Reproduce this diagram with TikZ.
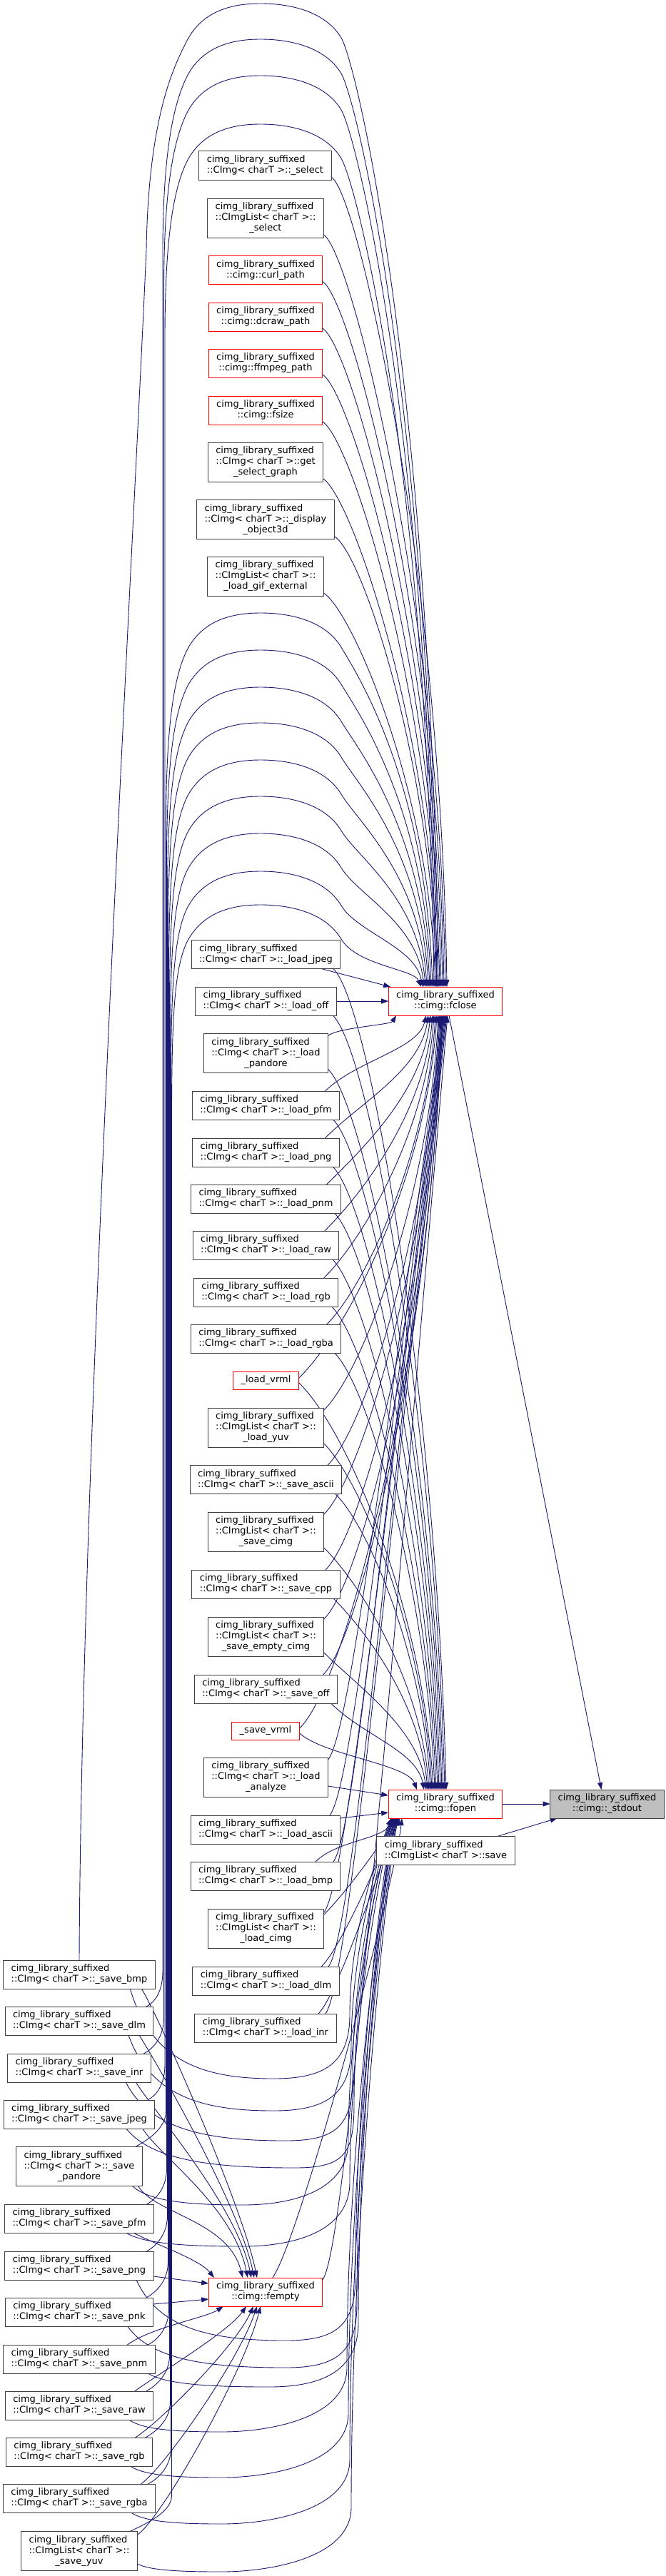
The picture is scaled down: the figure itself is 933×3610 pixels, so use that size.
\documentclass[tikz,border=0pt]{standalone}
\usepackage{fontspec}
\setmainfont{DejaVu Sans}
\usetikzlibrary{arrows.meta,backgrounds,calc}
\definecolor{edgeblue}{HTML}{191970}
\definecolor{nodeborder}{HTML}{404040}
\definecolor{nodered}{HTML}{FF0000}
\definecolor{nodegray}{HTML}{BFBFBF}
\newcommand{\Lone}[1]{\begin{tabular}{@{}c@{}}#1\end{tabular}}
\newcommand{\Ltwo}[2]{\begin{tabular}{@{}l@{}}#1\\\multicolumn{1}{@{}c@{}}{#2}\end{tabular}}
\newcommand{\Lthree}[3]{\begin{tabular}{@{}l@{}}#1\\#2\\\multicolumn{1}{@{}c@{}}{#3}\end{tabular}}
\newcommand{\cls}{cimg\_library\_suffixed}
\newcommand{\CI}{::CImg< charT >::}
\newcommand{\CL}{::CImgList< charT >::}
\tikzset{
  nbox/.style={draw=nodeborder, line width=1pt, fill=white, inner xsep=11pt, inner ysep=5pt, outer sep=0pt, font=\fontsize{13}{15}\selectfont, text=black, anchor=center},
  rbox/.style={nbox, draw=nodered},
  gbox/.style={nbox, fill=nodegray},
  edg/.style={draw=edgeblue, line width=0.9pt, -{Triangle[length=10pt,width=7pt]}}
}
\begin{document}
\begin{tikzpicture}[x=1pt,y=-1pt]
\useasboundingbox (0,0) rectangle (933,3610);
% middle column, upper
\node[nbox] (n1) at (371.5,232) {\Ltwo{\cls}{\CI\_select}};
\node[nbox] (n2) at (372,305.5) {\Lthree{\cls}{\CL}{\_select}};
\node[rbox] (n3) at (372,378.5) {\Ltwo{\cls}{::cimg::curl\_path}};
\node[rbox] (n4) at (372,444) {\Ltwo{\cls}{::cimg::dcraw\_path}};
\node[rbox] (n5) at (372,509) {\Ltwo{\cls}{::cimg::ffmpeg\_path}};
\node[rbox] (n6) at (372,575) {\Ltwo{\cls}{::cimg::fsize}};
\node[nbox] (n7) at (372,647.5) {\Lthree{\cls}{\CI get}{\_select\_graph}};
\node[nbox] (n8) at (372,728) {\Lthree{\cls}{\CI\_display}{\_object3d}};
\node[nbox] (n9) at (372,807.5) {\Lthree{\cls}{\CL}{\_load\_gif\_external}};
% middle column, lower
\node[nbox] (n10) at (372.5,1337.5) {\Ltwo{\cls}{\CI\_load\_jpeg}};
\node[nbox] (n11) at (372.5,1403) {\Ltwo{\cls}{\CI\_load\_off}};
\node[nbox] (n12) at (372.5,1476) {\Lthree{\cls}{\CI\_load}{\_pandore}};
\node[nbox] (n13) at (372.5,1549) {\Ltwo{\cls}{\CI\_load\_pfm}};
\node[nbox] (n14) at (372.5,1615) {\Ltwo{\cls}{\CI\_load\_png}};
\node[nbox] (n15) at (372.5,1680) {\Ltwo{\cls}{\CI\_load\_pnm}};
\node[nbox] (n16) at (372.5,1745) {\Ltwo{\cls}{\CI\_load\_raw}};
\node[nbox] (n17) at (372.5,1811) {\Ltwo{\cls}{\CI\_load\_rgb}};
\node[nbox] (n18) at (372.5,1876) {\Ltwo{\cls}{\CI\_load\_rgba}};
\node[rbox] (n19) at (372.5,1934.5) {\Lone{\_load\_vrml}};
\node[nbox] (n20) at (372.5,2000.5) {\Lthree{\cls}{\CL}{\_load\_yuv}};
\node[nbox] (n21) at (372.5,2073.5) {\Ltwo{\cls}{\CI\_save\_ascii}};
\node[nbox] (n22) at (372.5,2146.5) {\Lthree{\cls}{\CL}{\_save\_cimg}};
\node[nbox] (n23) at (372.5,2220) {\Ltwo{\cls}{\CI\_save\_cpp}};
\node[nbox] (n24) at (372.5,2293.5) {\Lthree{\cls}{\CL}{\_save\_empty\_cimg}};
\node[nbox] (n25) at (372.5,2367) {\Ltwo{\cls}{\CI\_save\_off}};
\node[rbox] (n26) at (372,2425.5) {\Lone{\_save\_vrml}};
\node[nbox] (n27) at (372.5,2490.5) {\Lthree{\cls}{\CI\_load}{\_analyze}};
\node[nbox] (n28) at (372,2564) {\Ltwo{\cls}{\CI\_load\_ascii}};
\node[nbox] (n29) at (372,2629) {\Ltwo{\cls}{\CI\_load\_bmp}};
\node[nbox] (n30) at (372.5,2702.5) {\Lthree{\cls}{\CL}{\_load\_cimg}};
\node[nbox] (n31) at (372.5,2776) {\Ltwo{\cls}{\CI\_load\_dlm}};
\node[nbox] (n32) at (372,2842) {\Ltwo{\cls}{\CI\_load\_inr}};
\node[rbox] (fempty) at (372,3212) {\Ltwo{\cls}{::cimg::fempty}};
% left column
\node[nbox] (L1) at (111,2767) {\Ltwo{\cls}{\CI\_save\_bmp}};
\node[nbox] (L2) at (111,2832) {\Ltwo{\cls}{\CI\_save\_dlm}};
\node[nbox] (L3) at (111,2898) {\Ltwo{\cls}{\CI\_save\_inr}};
\node[nbox] (L4) at (111,2963) {\Ltwo{\cls}{\CI\_save\_jpeg}};
\node[nbox] (L5) at (111,3036) {\Lthree{\cls}{\CI\_save}{\_pandore}};
\node[nbox] (L6) at (111,3109) {\Ltwo{\cls}{\CI\_save\_pfm}};
\node[nbox] (L7) at (111,3175) {\Ltwo{\cls}{\CI\_save\_png}};
\node[nbox] (L8) at (111,3240) {\Ltwo{\cls}{\CI\_save\_pnk}};
\node[nbox] (L9) at (111,3306) {\Ltwo{\cls}{\CI\_save\_pnm}};
\node[nbox] (L10) at (111,3371) {\Ltwo{\cls}{\CI\_save\_raw}};
\node[nbox] (L11) at (111,3436) {\Ltwo{\cls}{\CI\_save\_rgb}};
\node[nbox] (L12) at (111,3501) {\Ltwo{\cls}{\CI\_save\_rgba}};
\node[nbox] (L13) at (111,3575) {\Lthree{\cls}{\CL}{\_save\_yuv}};
% right
\node[rbox] (fclose) at (624,1403) {\Ltwo{\cls}{::cimg::fclose}};
\node[rbox] (fopen) at (624,2528) {\Ltwo{\cls}{::cimg::fopen}};
\node[nbox] (lsave) at (624.5,2593.5) {\Ltwo{\cls}{\CL save}};
\node[gbox] (stdout) at (850.5,2528) {\Ltwo{\cls}{::cimg::\_stdout}};

\begin{pgfonlayer}{background}
\fill[white] (0,0) rectangle (933,3610);
% to stdout
\draw[edg] ([xshift=5pt]fclose.south) -- ([xshift=-8pt]stdout.north);
\draw[edg] (fopen.east) -- (stdout.west);
\draw[edg] ([xshift=72pt]lsave.north) -- ([xshift=10pt]stdout.south west);
% A: top nodes -> fclose top
\foreach \qn/\qsx/\qsy/\qex in {n1/464/248/626,n2/453/329/624,n3/453/395/622,n4/453/460/620,n5/453/525/618,n6/453/591/616,n7/453/671/614,n8/468/751/612,n9/453/831/610}{
  \pgfmathsetmacro\qa{\qsx+40}
  \pgfmathsetmacro\qb{\qsy+25}
  \pgfmathsetmacro\qc{\qex-8}
  \pgfmathsetmacro\qd{\qsy+0.5*(1383-\qsy)}
  \pgfmathsetmacro\qo{\qex-624}
  \draw[edg] ([yshift=4pt]\qn.south east) .. controls (\qa,\qb) and (\qc,\qd) .. ([xshift=\qo pt]fclose.north);
}
% B: arches from left column to fclose
\draw[edg] (L1.north) .. controls +(3,-700) and (185,800) .. (205,350) .. controls (208,160) and (245,90) .. (263,55) .. controls (285,15) and (325,5) .. (365,5) .. controls (405,5) and (455,15) .. (478,53) .. controls (500,90) and (604,537) .. ([xshift=-10pt]fclose.north);
\foreach \qn/\qbx/\qyp/\qex in {L2/228/55/612,L3/229.5/106/610,L4/231/174/608,L5/232.5/859/606,L6/233.5/911/604,L7/234.5/963/602,L8/235.5/1013/600,L9/236.5/1065/598,L10/237.5/1116/596,L11/238.5/1168/594,L12/239.5/1221/592,L13/240.5/1268/590}{
  \pgfmathsetmacro\qyb{\qyp+300}
  \pgfmathsetmacro\qyc{\qyp+150}
  \pgfmathsetmacro\qyd{\qyp+85}
  \pgfmathsetmacro\qye{\qyp+50}
  \pgfmathsetmacro\qyf{\qyp+10}
  \pgfmathsetmacro\qyh{\qyp+48}
  \pgfmathsetmacro\qyj{\qyp+0.35*(1383-\qyp)+50}
  \pgfmathsetmacro\qxm{\qex-10}
  \pgfmathsetmacro\qo{\qex-624}
  \draw[edg] let \p1=([xshift=-10pt]\qn.north east) in (\p1) .. controls +(15,-8) and (\qbx pt,\y1+25pt) .. (\qbx pt,\y1+50pt) -- (\qbx,\qyb) .. controls (\qbx,\qyc) and (245,\qyd) .. (263,\qye) .. controls (285,\qyf) and (325,\qyp) .. (365,\qyp) .. controls (405,\qyp) and (455,\qyf) .. (478,\qyh) .. controls (500,\qyd) and (\qxm,\qyj) .. ([xshift=\qo pt]fclose.north);
}
% special short edges
\draw[edg] ([xshift=-27pt]n10.south east) -- ([xshift=3pt]fclose.north west);
\draw[edg] (n11.east) -- (fclose.west);
% C: middle nodes -> fclose bottom
\foreach \qn/\qan/\qxs/\qys/\qsx/\qsy/\qex in {n12/north east/0/-3/460/1452/555,n13/north east/-20/0/456/1529/597,n14/north east/-20/0/455/1595/600,n15/north east/-20/0/458/1660/603,n16/north east/-20/0/455/1725/606,n17/north east/-20/0/454/1791/608,n18/north east/-20/0/458/1856/610,n19/east/0/3/420/1931/612,n20/north east/0/-3/454/1976/614,n21/north east/-20/0/460/2053/615,n22/north east/0/-3/454/2122/616,n23/north east/-20/0/456/2200/617,n24/north east/0/-3/454/2269/618,n25/north east/-20/0/453/2347/619,n26/east/0/3/421/2423/620}{
  \pgfmathsetmacro\qdx{\qex-\qsx}
  \pgfmathsetmacro\qdy{\qsy-1423}
  \pgfmathsetmacro\qa{min(0.35*\qdx,0.4*\qdy)}
  \pgfmathsetmacro\qcx{\qsx+\qa}
  \pgfmathsetmacro\qcy{\qsy-\qa}
  \pgfmathsetmacro\qcc{\qex-0.08*\qdx}
  \pgfmathsetmacro\qcd{1423+0.45*\qdy}
  \pgfmathsetmacro\qo{\qex-624}
  \draw[edg] ([xshift=\qxs pt,yshift=\qys pt]\qn.\qan) .. controls (\qcx,\qcy) and (\qcc,\qcd) .. ([xshift=\qo pt]fclose.south);
}
% D: middle nodes -> fopen top
\foreach \qn/\qan/\qxs/\qys/\qsx/\qsy/\qex in {n10/south east/-10/0/467/1357/625,n11/south east/-5/0/467/1423/623,n12/south east/0/5/460/1498/621,n13/south east/-9/0/467/1569/619,n14/south east/-9/0/466/1635/617,n15/south east/-9/0/469/1700/615,n16/south east/-9/0/466/1765/613,n17/south east/-9/0/465/1831/611,n18/south east/-9/0/469/1896/609,n19/east/0/-3/420/1937/607,n20/south east/0/5/454/2023/605,n21/south east/-9/0/471/2094/603,n22/south east/0/5/454/2169/601,n23/south east/-9/0/467/2240/599,n24/south east/0/5/454/2316/597,n25/south east/-9/0/464/2387/594,n26/east/0/-3/421/2428/584}{
  \pgfmathsetmacro\qdx{\qex-\qsx}
  \pgfmathsetmacro\qdy{2508-\qsy}
  \pgfmathsetmacro\qa{min(0.35*\qdx,0.4*\qdy)}
  \pgfmathsetmacro\qcx{\qsx+\qa}
  \pgfmathsetmacro\qcy{\qsy+\qa}
  \pgfmathsetmacro\qcc{\qex-0.08*\qdx}
  \pgfmathsetmacro\qcd{2508-0.45*\qdy}
  \pgfmathsetmacro\qo{\qex-624}
  \draw[edg] ([xshift=\qxs pt,yshift=\qys pt]\qn.\qan) .. controls (\qcx,\qcy) and (\qcc,\qcd) .. ([xshift=\qo pt]fopen.north);
}
% E: lower nodes -> fclose bottom
\foreach \qn/\qan/\qxs/\qys/\qsx/\qsy/\qex in {n27/north east/0/-3/460/2466/621,n28/north east/-15/0/463/2544/622,n29/north east/-10/0/467/2609/623,n30/north east/0/-5/454/2680/624,n31/north east/-15/0/461/2756/625,n32/north east/-15/0/456/2822/626,fempty/north east/0/-3/453/3195/627}{
  \pgfmathsetmacro\qcx{\qsx+30}
  \pgfmathsetmacro\qcy{\qsy-40}
  \pgfmathsetmacro\qcd{1423+0.6*(\qsy-1423)}
  \pgfmathsetmacro\qo{\qex-624}
  \draw[edg] ([xshift=\qxs pt,yshift=\qys pt]\qn.\qan) .. controls (\qcx,\qcy) and (535,\qcd) .. ([xshift=\qo pt]fclose.south);
}
% F: lower nodes -> fopen bottom / left
\draw[edg] ([yshift=-12.5pt]n27.east) -- ([yshift=12pt]fopen.west);
\draw[edg] ([yshift=16pt]n28.east) -- ([yshift=-12pt]fopen.west);
\foreach \qn/\qan/\qxs/\qys/\qsx/\qsy/\qex in {n29/north east/-35/0/442/2609/551,n30/north east/0/-8/454/2683/554,n31/north east/-25/0/451/2756/557,n32/north east/-25/0/446/2822/560}{
  \pgfmathsetmacro\qcx{\qsx+30}
  \pgfmathsetmacro\qcy{\qsy-30}
  \pgfmathsetmacro\qcc{\qex-15}
  \pgfmathsetmacro\qo{\qex-624}
  \draw[edg] ([xshift=\qxs pt,yshift=\qys pt]\qn.\qan) .. controls (\qcx,\qcy) and (\qcc,2578) .. ([xshift=\qo pt]fopen.south);
}
\draw[edg] ([xshift=10pt]fempty.north) .. controls (422,3132) and (553,2640) .. ([xshift=-61pt]fopen.south);
% G: left column -> fopen bottom
\foreach \qn/\qxs/\qsx/\qsy/\qmx/\qmy/\qrx/\qo in {L1/-35/182/2787/383/2913/490/-76,L2/-35/180/2852/383/2958/492/-75,L3/-35/176/2918/400/3000/494/-74,L4/-40/177/2983/413/3038/496/-73,L5/-14/185/3063/340/3090/488/-72,L6/-39/177/3129/340/3148/490/-71,L7/-24/190/3195/400/3280/498/-70,L8/-36/178/3260/400/3318/500/-69,L9/-10/207/3326/377/3345/502/-68,L10/-34/180/3391/310/3408/486/-67,L11/-31/182/3456/310/3472/488/-66,L12/-34/183/3521/310/3537/490/-65}{
  \pgfmathsetmacro\qca{\qsx+0.15*(\qmx-\qsx)}
  \pgfmathsetmacro\qcb{\qsy+0.8*(\qmy-\qsy)}
  \pgfmathsetmacro\qcc{\qmx-0.5*(\qmx-\qsx)}
  \pgfmathsetmacro\qcd{\qmx+70}
  \pgfmathsetmacro\qce{\qmy-20}
  \pgfmathsetmacro\qry{\qmy-90}
  \pgfmathsetmacro\qcf{\qry-0.45*(\qry-2548)}
  \draw[edg] ([xshift=\qxs pt]\qn.south east) .. controls (\qca,\qcb) and (\qcc,\qmy) .. (\qmx,\qmy) .. controls (\qcd,\qmy) and (\qrx,\qce) .. (\qrx,\qry) .. controls (\qrx,\qcf) and +(-12,30) .. ([xshift=\qo pt]fopen.south);
}
\draw[edg] ([yshift=-18pt]L13.east) .. controls (210,3602) and (251,3604) .. (310,3604) .. controls (380,3604) and (492,3584) .. (492,3514) .. controls (492,3079) and +(-12,30) .. ([xshift=-64pt]fopen.south);
% H: left column -> fempty
\foreach \qn/\qxs/\qsx/\qsy/\qo/\qdx/\qdy/\qey in {L1/-19/198/2787/-12/25/40/-100,L2/-20/195/2852/-16/25/40/-100,L3/-21/190/2918/-20/25/40/-100,L4/-17/200/2983/-25/25/40/-100,L5/-6/193/3063/-32/25/40/-80,L6/-29/187/3129/-72/40/20/-25}{
  \pgfmathsetmacro\qca{\qsx+\qdx}
  \pgfmathsetmacro\qcb{\qsy+\qdy}
  \pgfmathsetmacro\qcc{372+\qo-20}
  \pgfmathsetmacro\qcd{3192+\qey}
  \draw[edg] ([xshift=\qxs pt]\qn.south east) .. controls (\qca,\qcb) and (\qcc,\qcd) .. ([xshift=\qo pt]fempty.north);
}
\draw[edg] ([yshift=-15pt]L7.east) -- ([yshift=12pt]fempty.west);
\draw[edg] ([yshift=11pt]L8.east) -- ([yshift=-10pt]fempty.west);
\foreach \qn/\qxs/\qys/\qsx/\qsy/\qo in {L9/-39/0/178/3286/-59,L10/-26/0/188/3351/-27,L11/-24/0/193/3416/-17,L12/-20/0/197/3481/-12,L13/0/-5/192/3553/-7}{
  \pgfmathsetmacro\qca{\qsx+35}
  \pgfmathsetmacro\qcb{\qsy-25}
  \pgfmathsetmacro\qcc{372+\qo-25}
  \pgfmathsetmacro\qcd{3232+0.3*(\qsy-3232)}
  \draw[edg] ([xshift=\qxs pt,yshift=\qys pt]\qn.north east) .. controls (\qca,\qcb) and (\qcc,\qcd) .. ([xshift=\qo pt]fempty.south);
}
\end{pgfonlayer}
\end{tikzpicture}
\end{document}
